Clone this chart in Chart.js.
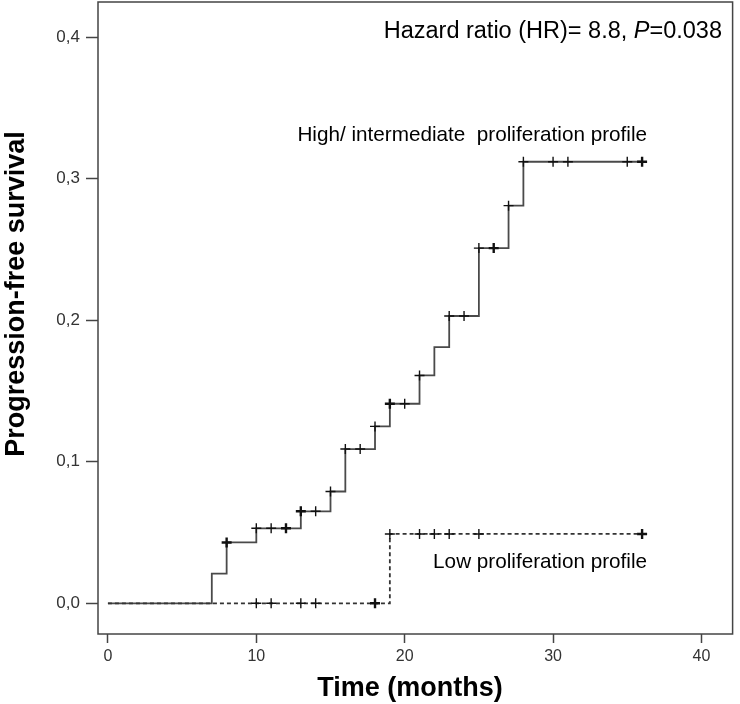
<!DOCTYPE html>
<html><head><meta charset="utf-8">
<script src="https://cdn.jsdelivr.net/npm/chart.js@4.4.1/dist/chart.umd.min.js"></script>
<style>html,body{margin:0;padding:0;background:#fff;}canvas{display:block;}</style>
</head><body>
<canvas id="c" width="740" height="704"></canvas>
<script>
// ---- data ----
const highTimes = [0, 7, 8, 10, 13, 15, 16, 18, 19, 21, 22, 23, 25, 27, 28, 36];
const highPFS   = [0, 0.021, 0.043, 0.053, 0.065, 0.079, 0.109, 0.125, 0.141, 0.161, 0.181, 0.203, 0.251, 0.281, 0.312, 0.312];
const highCensored = [8, 10, 11, 12, 13, 14, 15, 16, 17, 18, 19, 20, 21, 23, 24, 25, 26, 27, 28, 30, 31, 35, 36];
const highHeavy = [8, 12, 13, 19, 26, 36];
const lowTimes = [0, 19, 36];
const lowPFS   = [0, 0.049, 0.049];
const lowCensored = [10, 11, 13, 14, 18, 19, 21, 22, 23, 25, 36];
const lowHeavy = [18, 36];
const xTickValues = [0, 10, 20, 30, 40];
const yTickValues = [0, 0.1, 0.2, 0.3, 0.4];
const xTitle = 'Time (months)';
const yTitle = 'Progression-free survival';
const highLabel = 'High/ intermediate  proliferation profile';
const lowLabel = 'Low proliferation profile';
const hrPre = 'Hazard ratio (HR)= 8.8, ';
const hrP = 'P';
const hrPost = '=0.038';

const FONT = '"Liberation Sans", Arial, sans-serif';
const PLOT_TOP = 2;

function levelAt(times, values, t) {
  let v = values[0];
  for (let i = 0; i < times.length; i++) if (times[i] <= t) v = values[i];
  return v;
}
const highLine = highTimes.map((t, i) => ({x: t, y: highPFS[i]}));
const lowLine = lowTimes.map((t, i) => ({x: t, y: lowPFS[i]}));
const highMarks = highCensored.map(t => ({x: t, y: levelAt(highTimes, highPFS, t)}));
const lowMarks = lowCensored.map(t => ({x: t, y: levelAt(lowTimes, lowPFS, t)}));

const decor = {
  id: 'decor',
  afterLayout(chart) {
    const a = chart.chartArea;
    const y = chart.scales.y;
    if (a.top !== PLOT_TOP) {
      a.top = PLOT_TOP;
      a.height = a.bottom - PLOT_TOP;
      y.top = PLOT_TOP;
      y.height = y.bottom - PLOT_TOP;
      y.configure();
      y._labelItems = null;
      y._gridLineItems = null;
    }
  },
  afterDraw(chart) {
    const {ctx, chartArea: a} = chart;
    ctx.save();
    ctx.strokeStyle = '#444';
    ctx.lineWidth = 1.5;
    ctx.strokeRect(a.left, a.top, a.right - a.left, a.bottom - a.top);

    ctx.fillStyle = '#000';
    ctx.textBaseline = 'alphabetic';
    const hs = 23.5;
    ctx.font = hs + 'px ' + FONT;
    const w1 = ctx.measureText(hrPre).width;
    const w3 = ctx.measureText(hrPost).width;
    ctx.font = 'italic ' + hs + 'px ' + FONT;
    const w2 = ctx.measureText(hrP).width;
    let xs = 722 - (w1 + w2 + w3);
    ctx.textAlign = 'left';
    ctx.font = hs + 'px ' + FONT;
    ctx.fillText(hrPre, xs, 38);
    ctx.font = 'italic ' + hs + 'px ' + FONT;
    ctx.fillText(hrP, xs + w1, 38);
    ctx.font = hs + 'px ' + FONT;
    ctx.fillText(hrPost, xs + w1 + w2, 38);

    ctx.font = '20.7px ' + FONT;
    ctx.textAlign = 'right';
    ctx.fillText(highLabel, 647, 141);
    ctx.fillText(lowLabel, 647, 568);

    ctx.font = 'bold 27px ' + FONT;
    ctx.textAlign = 'center';
    ctx.textBaseline = 'middle';
    ctx.fillText(xTitle, 410, 689);
    ctx.translate(17, 294);
    ctx.rotate(-Math.PI / 2);
    ctx.fillText(yTitle, 0, 0);
    ctx.restore();
  }
};

new Chart(document.getElementById('c'), {
  type: 'scatter',
  data: {
    datasets: [
      {
        data: highMarks, showLine: false, pointStyle: 'cross',
        pointRadius: 5, pointHoverRadius: 5,
        pointBorderColor: '#111',
        pointBorderWidth: ctx => highHeavy.includes(highCensored[ctx.dataIndex]) ? 2.4 : 1.4,
        order: 0
      },
      {
        data: lowMarks, showLine: false, pointStyle: 'cross',
        pointRadius: 5, pointHoverRadius: 5,
        pointBorderColor: '#111',
        pointBorderWidth: ctx => lowHeavy.includes(lowCensored[ctx.dataIndex]) ? 2.4 : 1.4,
        order: 1
      },
      {
        data: lowLine, showLine: true, stepped: 'before',
        borderColor: '#333', borderWidth: 1.8, borderDash: [4, 3],
        pointRadius: 0, fill: false, order: 2
      },
      {
        data: highLine, showLine: true, stepped: 'before',
        borderColor: '#4a4a4a', borderWidth: 1.8,
        pointRadius: 0, fill: false, order: 3
      }
    ]
  },
  options: {
    responsive: false,
    animation: false,
    devicePixelRatio: 1,
    layout: {padding: {left: 0, right: 2, top: 0, bottom: 0}},
    plugins: {legend: {display: false}, tooltip: {enabled: false}},
    scales: {
      x: {
        type: 'linear', min: -0.67, max: 42.1,
        afterBuildTicks: s => { s.ticks = xTickValues.map(v => ({value: v})); },
        afterFit: s => { s.height = 70; s.paddingLeft = 0; s.paddingRight = 0; },
        border: {display: false},
        grid: {drawOnChartArea: false, drawTicks: true, tickLength: 9, tickColor: '#444', tickWidth: 1.5},
        ticks: {color: '#333', font: {family: FONT, size: 16}, padding: 4, maxRotation: 0,
                callback: v => String(v)}
      },
      y: {
        type: 'linear', min: -0.0217, max: 0.4249,
        afterBuildTicks: s => { s.ticks = yTickValues.map(v => ({value: v})); },
        afterFit: s => { s.width = 98; s.paddingTop = 0; s.paddingBottom = 0; },
        border: {display: false},
        grid: {drawOnChartArea: false, drawTicks: true, tickLength: 12, tickColor: '#444', tickWidth: 1.5},
        ticks: {color: '#333', font: {family: FONT, size: 17}, padding: 6,
                callback: v => v.toFixed(1).replace('.', ',')}
      }
    }
  },
  plugins: [decor]
});
</script>
</body></html>
